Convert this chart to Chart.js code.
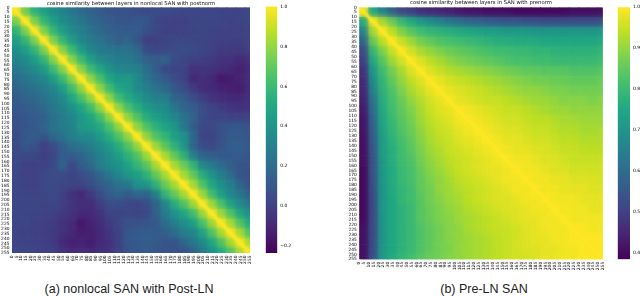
<!DOCTYPE html>
<html>
<head>
<meta charset="utf-8">
<script src="https://cdn.jsdelivr.net/npm/chart.js@4"></script>
<style>
  html, body { margin: 0; background: #fff; overflow: hidden; width: 640px; height: 296px; }
  .box { position: absolute; top: 0; }
  .cap { position: absolute; font: 12.5px "Liberation Sans", Arial, sans-serif; color: #222; white-space: nowrap; transform: translateX(-50%); top: 282px; }
</style>
</head>
<body>
<div class="box" style="left:0;width:262px;height:270px"><canvas id="heatA"></canvas></div>
<div class="box" style="left:262px;width:40px;height:270px"><canvas id="barA"></canvas></div>
<div class="box" style="left:340px;width:282px;height:276px"><canvas id="heatB"></canvas></div>
<div class="box" style="left:614px;width:26px;height:276px"><canvas id="barB"></canvas></div>
<div class="cap" style="left:129px">(a) nonlocal SAN with Post-LN</div>
<div class="cap" style="left:484px">(b) Pre-LN SAN</div>
<script>
const layerBins = [5, 15, 25, 35, 45, 55, 65, 75, 85, 95, 105, 115, 125, 135, 145, 155, 165, 175, 185, 195, 205, 215, 225, 235, 245, 255];
const layerTicks = [0, 5, 10, 15, 20, 25, 30, 35, 40, 45, 50, 55, 60, 65, 70, 75, 80, 85, 90, 95, 100, 105, 110, 115, 120, 125, 130, 135, 140, 145, 150, 155, 160, 165, 170, 175, 180, 185, 190, 195, 200, 205, 210, 215, 220, 225, 230, 235, 240, 245, 250, 255];
const barTicksA = [-0.2, 0, 0.2, 0.4, 0.6, 0.8, 1];
const barTicksB = [0.4, 0.5, 0.6, 0.7, 0.8, 0.9, 1];
const viridis = ['#440154', '#482475', '#414487', '#355f8d', '#2a788e', '#21918c', '#22a884', '#44bf70', '#7ad151', '#bddf26', '#fde725'];

// similarity in hundredths, upper triangle: each row starts on the diagonal
const postLnRows = [
  [100, 74, 56, 45, 38, 32, 26, 20, 16, 12, 10, 8, 8, 6, 5, 5, 5, 4, 3, 3, 4, 3, 2, 2, 2, 4],
  [100, 76, 58, 46, 37, 31, 25, 20, 16, 13, 11, 10, 11, 11, 4, 1, 1, 1, 3, 3, 3, 3, 1, 2, 3],
  [100, 76, 58, 45, 36, 30, 24, 19, 15, 13, 12, 13, 8, 4, 1, 1, 1, 2, 3, 2, 1, 1, 1, 2],
  [100, 76, 58, 44, 34, 28, 24, 20, 14, 17, 10, 0, 0, 2, 4, 4, 3, 2, 1, 0, 0, 0, 1],
  [100, 78, 60, 44, 34, 28, 26, 24, 24, 19, 6, 3, 4, 6, 6, 5, 3, 1, -1, -2, -2, 0],
  [100, 78, 60, 46, 36, 32, 28, 28, 24, 15, 13, 17, 6, 3, 1, 0, -2, -5, -5, -8, -5],
  [100, 78, 62, 50, 40, 34, 32, 30, 22, 13, 4, 2, 2, -5, -4, -5, -7, -8, -12, -8],
  [100, 80, 64, 50, 42, 44, 36, 26, 17, 13, 6, 2, -9, -6, -8, -15, -13, -10, -7],
  [100, 80, 62, 50, 46, 36, 30, 24, 19, 11, 6, -2, -7, -8, -11, -12, -13, -8],
  [100, 80, 62, 52, 44, 36, 30, 30, 17, 13, 6, 0, -5, -7, -8, -8, -6],
  [100, 80, 64, 54, 44, 38, 36, 26, 17, 13, 6, 2, -1, -4, -5, -5],
  [100, 80, 66, 54, 46, 40, 34, 24, 17, 6, 2, 3, 1, 1, 1],
  [100, 80, 66, 56, 48, 42, 26, 13, 4, 4, 8, 11, 11, 8],
  [100, 80, 66, 58, 46, 40, 19, 2, 2, 8, 12, 12, 10],
  [100, 82, 68, 56, 42, 17, 6, 4, 10, 14, 14, 12],
  [100, 84, 70, 56, 30, 17, 14, 12, 12, 12, 10],
  [100, 84, 72, 58, 34, 28, 21, 14, 10, 8],
  [100, 84, 70, 54, 40, 30, 21, 10, 7],
  [100, 84, 66, 50, 38, 30, 17, 8],
  [100, 82, 62, 46, 34, 26, 15],
  [100, 82, 64, 48, 36, 26],
  [100, 82, 66, 50, 38],
  [100, 84, 66, 52],
  [100, 84, 66],
  [100, 84],
  [100]
];
const preLnRows = [
  [100, 76, 66, 58, 52, 50, 47, 46, 45, 44, 43, 42, 42, 41, 41, 41, 40, 40, 40, 40, 40, 40, 41, 41, 41, 41],
  [100, 92, 86, 80, 76, 72, 69, 66, 63, 61, 59, 58, 57, 56, 55, 55, 54, 54, 53, 53, 53, 53, 53, 53, 54],
  [100, 94, 88, 84, 81, 79, 78, 77, 76, 75, 74, 73, 73, 72, 72, 72, 71, 71, 71, 71, 71, 71, 71, 72],
  [100, 95, 91, 87, 85, 83, 82, 81, 80, 79, 78, 77, 77, 76, 76, 76, 75, 75, 75, 75, 75, 75, 76],
  [100, 96, 92, 90, 88, 86, 85, 84, 83, 82, 81, 81, 80, 80, 79, 79, 78, 78, 78, 78, 78, 79],
  [100, 97, 94, 92, 90, 88, 87, 86, 85, 84, 83, 82, 82, 81, 81, 80, 80, 80, 80, 80, 81],
  [100, 97, 95, 93, 92, 91, 90, 89, 88, 87, 86, 85, 85, 84, 84, 84, 83, 83, 83, 84],
  [100, 98, 96, 95, 94, 93, 92, 91, 90, 89, 88, 87, 87, 86, 86, 85, 85, 85, 86],
  [100, 98, 97, 96, 95, 94, 93, 92, 91, 90, 90, 89, 88, 88, 87, 87, 87, 87],
  [100, 98, 97, 96, 95, 95, 94, 93, 92, 91, 91, 90, 89, 89, 89, 88, 89],
  [100, 99, 98, 97, 96, 95, 95, 94, 93, 92, 91, 91, 90, 90, 90, 90],
  [100, 99, 98, 97, 96, 96, 95, 94, 94, 93, 92, 92, 91, 91, 91],
  [100, 99, 98, 97, 97, 96, 95, 95, 94, 93, 93, 92, 92, 92],
  [100, 99, 98, 98, 97, 96, 96, 95, 94, 94, 93, 93, 93],
  [100, 99, 98, 98, 97, 97, 96, 95, 95, 94, 94, 94],
  [100, 99, 99, 98, 97, 97, 96, 95, 95, 95, 95],
  [100, 99, 99, 98, 97, 97, 96, 96, 96, 96],
  [100, 99, 99, 98, 98, 97, 97, 97, 96],
  [100, 99, 99, 98, 98, 98, 97, 97],
  [100, 99, 99, 99, 98, 98, 98],
  [100, 99, 99, 99, 98, 98],
  [100, 99, 99, 99, 99],
  [100, 100, 99, 99],
  [100, 100, 100],
  [100, 100],
  [100]
];

function hexRgb(h) {
  return [1, 3, 5].map(i => parseInt(h.slice(i, i + 2), 16));
}

function colorAt(t) {
  t = Math.max(0, Math.min(1, t)) * (viridis.length - 1);
  const i = Math.min(Math.floor(t), viridis.length - 2);
  const a = hexRgb(viridis[i]), b = hexRgb(viridis[i + 1]), f = t - i;
  return `rgb(${a.map((v, k) => Math.round(v + (b[k] - v) * f)).join(',')})`;
}

// the matrix is symmetric so the lower half is read from the same rows
function cellsOf(rows) {
  const out = [];
  layerBins.forEach((y, r) => {
    layerBins.forEach((x, c) => {
      const lo = Math.min(r, c), hi = Math.max(r, c);
      out.push({ x: x, y: y, v: rows[lo][hi - lo] / 100 });
    });
  });
  return out;
}

// plain cells underneath keep the edges solid, the blurred copy gives the smooth look
const softCells = {
  id: 'softCells',
  beforeDatasetDraw(chart, args) {
    const b = chart.data.datasets[args.index].blur;
    if (b) chart.ctx.filter = `blur(${b}px)`;
  },
  afterDatasetDraw(chart) {
    chart.ctx.filter = 'none';
  }
};

function heatmap(id, rows, vmin, vmax, titleText, cfg) {
  const cells = cellsOf(rows);
  const colors = cells.map(p => colorAt((p.v - vmin) / (vmax - vmin)));
  const cellSet = (extra) => Object.assign({
    data: cells,
    pointStyle: 'rect',
    pointRadius: 7.4,
    pointHoverRadius: 7.4,
    pointBorderWidth: 0,
    pointBackgroundColor: colors,
    showLine: false
  }, extra);
  new Chart(document.getElementById(id), {
    type: 'scatter',
    plugins: [softCells],
    data: {
      datasets: [
        { data: [{ x: 0, y: 0 }, { x: 255, y: 255 }], showLine: true, pointRadius: 0, borderColor: viridis[10], borderWidth: cfg.diag, blur: 1, order: 0 },
        cellSet({ blur: cfg.blur, order: 1 }),
        cellSet({ order: 2 })
      ]
    },
    options: {
      responsive: true,
      maintainAspectRatio: false,
      animation: false,
      events: [],
      layout: { padding: { left: 0, right: cfg.yWidth, top: 0, bottom: 0 } },
      plugins: {
        legend: { display: false },
        tooltip: { enabled: false },
        title: {
          display: true,
          fullSize: false,
          text: titleText,
          color: '#111',
          font: { family: 'DejaVu Sans', size: 5.3, weight: 'normal', lineHeight: 1.1 },
          padding: { top: 0, bottom: cfg.top - 5.83 }
        }
      },
      scales: {
        x: {
          type: 'linear', min: 0, max: 255,
          grid: { display: false, drawTicks: true, tickLength: 2, tickColor: '#333', tickWidth: 0.4 },
          border: { display: false },
          afterBuildTicks: s => { s.ticks = layerTicks.map(v => ({ value: v })); },
          afterFit: s => { s.height = cfg.xHeight; },
          ticks: {
            autoSkip: false, minRotation: 90, maxRotation: 90, padding: 0.5, color: '#000',
            font: { family: 'DejaVu Sans', size: 4.4 }, callback: v => v
          }
        },
        y: {
          type: 'linear', min: 0, max: 255, reverse: true,
          grid: { display: false, drawTicks: true, tickLength: 2, tickColor: '#333', tickWidth: 0.4 },
          border: { display: false },
          afterBuildTicks: s => { s.ticks = layerTicks.map(v => ({ value: v })); },
          afterFit: s => { s.width = cfg.yWidth; },
          ticks: {
            autoSkip: false, padding: 0.5, color: '#000',
            font: { family: 'DejaVu Sans', size: 4.4 }, callback: v => v
          }
        }
      }
    }
  });
}

function colorbar(id, vmin, vmax, barTicks, pad) {
  new Chart(document.getElementById(id), {
    type: 'bar',
    data: {
      labels: ['value'],
      datasets: [{
        data: [[vmin, vmax]],
        barPercentage: 1,
        categoryPercentage: 1,
        backgroundColor: c => {
          const area = c.chart.chartArea;
          if (!area) return viridis[5];
          const g = c.chart.ctx.createLinearGradient(0, area.bottom, 0, area.top);
          viridis.forEach((col, i) => g.addColorStop(i / (viridis.length - 1), col));
          return g;
        }
      }]
    },
    options: {
      responsive: true,
      maintainAspectRatio: false,
      animation: false,
      events: [],
      layout: { padding: { left: pad.left, right: 0, top: pad.top, bottom: pad.bottom } },
      plugins: { legend: { display: false }, tooltip: { enabled: false } },
      scales: {
        x: { display: false },
        y: {
          position: 'right', min: vmin, max: vmax,
          grid: { display: false, drawTicks: true, tickLength: 2, tickColor: '#333', tickWidth: 0.4 },
          border: { display: false },
          afterBuildTicks: s => { s.ticks = barTicks.map(v => ({ value: v })); },
          afterFit: s => { s.width = pad.axis; },
          ticks: {
            padding: 1, color: '#000',
            font: { family: 'DejaVu Sans', size: 4.5 },
            callback: v => (v < 0 ? '\u2212' : '') + Math.abs(v).toFixed(1)
          }
        }
      }
    }
  });
}

heatmap('heatA', postLnRows, -0.235, 1, 'cosine similarity between layers in nonlocal SAN with postnorm',
  { yWidth: 12, xHeight: 17, top: 6.5, blur: 3, diag: 3.5 });
heatmap('heatB', preLnRows, 0.384, 1, 'cosine similarity between layers in SAN with prenorm',
  { yWidth: 19.3, xHeight: 16.7, top: 7.3, blur: 3, diag: 3 });
colorbar('barA', -0.235, 1, barTicksA, { left: 3.7, top: 6.5, bottom: 17, axis: 24.7 });
colorbar('barB', 0.384, 1, barTicksB, { left: 3.7, top: 7.3, bottom: 16.7, axis: 10 });
</script>
</body>
</html>
